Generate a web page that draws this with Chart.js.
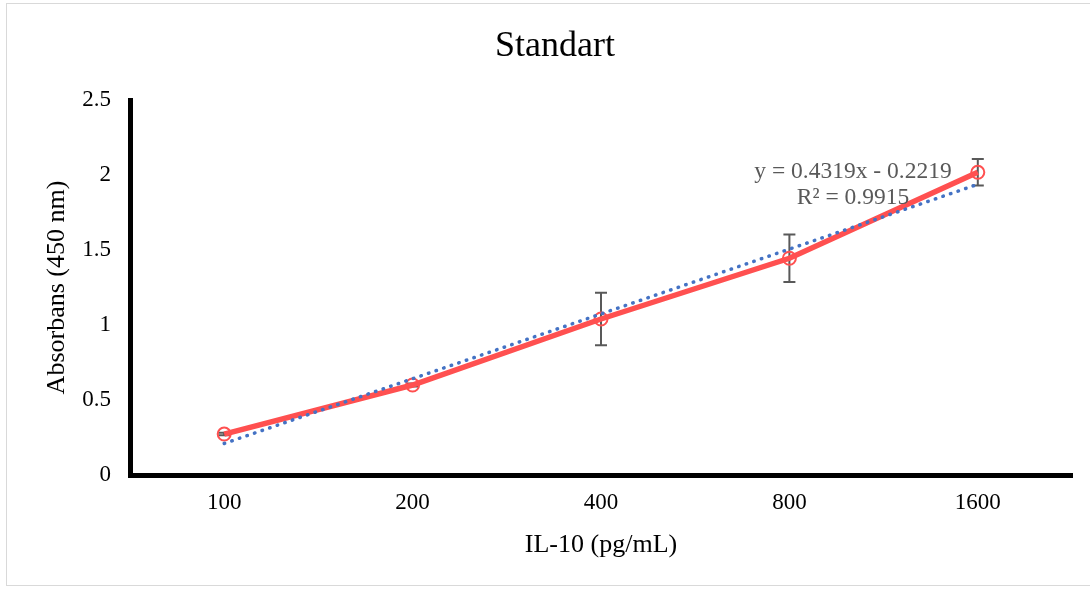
<!DOCTYPE html>
<html>
<head>
<meta charset="utf-8">
<script src="https://cdn.jsdelivr.net/npm/chart.js@4.4.1/dist/chart.umd.min.js"></script>
<style>
  html, body { margin: 0; padding: 0; background: #fff; overflow: hidden; }
  #wrap { position: relative; width: 1090px; height: 590px; overflow: hidden; }
  #frame { position: absolute; left: 6px; top: 3px; width: 1100px; height: 583px; border: 1px solid #d9d9d9; box-sizing: border-box; }
  canvas { position: absolute; left: 0; top: 0; }
</style>
</head>
<body>
<div id="wrap">
  <div id="frame"></div>
  <canvas id="standardChart" width="1090" height="590"></canvas>
</div>
<script>
const concentrations = ["100", "200", "400", "800", "1600"];
const absorbance = [0.273, 0.60, 1.04, 1.445, 2.018];
const errorAmounts = [0.008, 0.01, 0.175, 0.158, 0.088];
const trendValues = [0.21, 0.642, 1.074, 1.506, 1.938];
const equationLines = ["y = 0.4319x - 0.2219", "R\u00b2 = 0.9915"];
const chartTitle = "Standart";

const serif = "'Liberation Serif', 'Times New Roman', serif";

// error bars drawn through the y scale
const errorBarPlugin = {
  id: "errorBars",
  beforeDatasetsDraw(chart) {
    const { ctx, scales } = chart;
    const meta = chart.getDatasetMeta(1);
    ctx.save();
    ctx.strokeStyle = "#595959";
    ctx.lineWidth = 2;
    meta.data.forEach((pt, i) => {
      const top = scales.y.getPixelForValue(absorbance[i] + errorAmounts[i]);
      const bottom = scales.y.getPixelForValue(absorbance[i] - errorAmounts[i]);
      ctx.beginPath();
      ctx.moveTo(pt.x, top);
      ctx.lineTo(pt.x, bottom);
      ctx.moveTo(pt.x - 6, top);
      ctx.lineTo(pt.x + 6, top);
      ctx.moveTo(pt.x - 6, bottom);
      ctx.lineTo(pt.x + 6, bottom);
      ctx.stroke();
    });
    ctx.restore();
  }
};

// chart title and trendline equation label
const textPlugin = {
  id: "textLabels",
  afterDraw(chart) {
    const { ctx, chartArea } = chart;
    ctx.save();
    ctx.textAlign = "center";
    ctx.textBaseline = "middle";
    ctx.fillStyle = "#000";
    ctx.font = "36px " + serif;
    ctx.fillText(chartTitle, 555, 47);
    ctx.fillStyle = "#595959";
    ctx.font = "23.5px " + serif;
    const cx = chartArea.right - 219;
    ctx.fillText(equationLines[0], cx, chartArea.top + 72);
    ctx.fillText(equationLines[1], cx, chartArea.top + 98);
    ctx.restore();
  }
};

new Chart(document.getElementById("standardChart"), {
  type: "line",
  data: {
    labels: concentrations,
    datasets: [
      {
        label: "Trend",
        data: trendValues,
        borderColor: "#4472C4",
        borderWidth: 3.5,
        borderDash: [0.5, 7.5],
        borderCapStyle: "round",
        pointRadius: 0,
        fill: false,
        order: 0
      },
      {
        label: "Absorbans",
        data: absorbance,
        borderColor: "#FF5050",
        borderWidth: 5.5,
        pointStyle: "circle",
        pointRadius: 6.5,
        pointBorderWidth: 2,
        pointBorderColor: "#FF5050",
        pointBackgroundColor: "rgba(0,0,0,0)",
        fill: false,
        order: 1
      }
    ]
  },
  options: {
    responsive: false,
    animation: false,
    layout: { padding: { top: 100, left: 0, right: 18, bottom: 0 } },
    plugins: {
      legend: { display: false },
      tooltip: { enabled: false },
      title: { display: false }
    },
    scales: {
      x: {
        offset: true,
        grid: { display: false },
        border: { display: true, color: "#000", width: 5 },
        ticks: { color: "#000", padding: 6, font: { family: serif, size: 23 } },
        title: {
          display: true,
          text: "IL-10 (pg/mL)",
          color: "#000",
          font: { family: serif, size: 26 },
          padding: { top: 0, bottom: 29 }
        },
        afterFit(scale) { scale.height = 115; }
      },
      y: {
        min: 0,
        max: 2.5,
        grid: { display: false },
        border: { display: true, color: "#000", width: 5 },
        ticks: {
          stepSize: 0.5,
          color: "#000",
          padding: 11,
          font: { family: serif, size: 23 },
          callback: value => String(value)
        },
        title: {
          display: true,
          text: "Absorbans (450 nm)",
          color: "#000",
          font: { family: serif, size: 26 },
          padding: { top: 42, bottom: 0 }
        },
        afterFit(scale) { scale.width = 130; }
      }
    }
  },
  plugins: [errorBarPlugin, textPlugin]
});
</script>
</body>
</html>
